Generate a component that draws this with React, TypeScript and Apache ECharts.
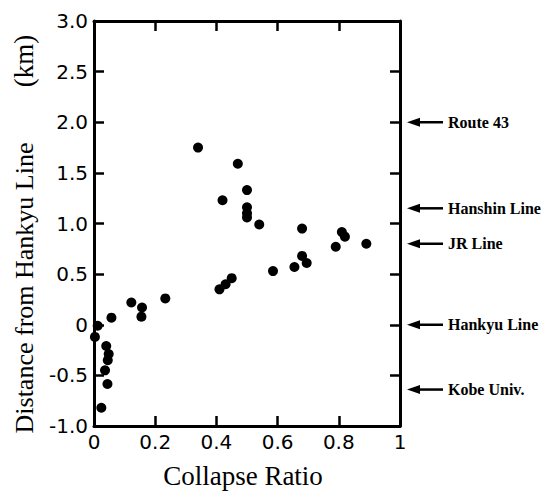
import React, { useEffect, useRef } from "react";
import * as echarts from "echarts";

const collapseRatio = [
  0.34, 0.47, 0.5, 0.42, 0.5, 0.5, 0.5, 0.54, 0.68,
  0.41, 0.43, 0.45, 0.585, 0.655, 0.68, 0.695,
  0.79, 0.81, 0.82, 0.89,
  0.233, 0.122, 0.157, 0.155, 0.057,
  0.012, 0.003, 0.04, 0.048, 0.045, 0.036, 0.044, 0.024,
];
const distanceKm = [
  1.75, 1.59, 1.33, 1.23, 1.16, 1.1, 1.06, 0.99, 0.95,
  0.35, 0.4, 0.46, 0.53, 0.57, 0.68, 0.61,
  0.77, 0.915, 0.87, 0.8,
  0.26, 0.22, 0.17, 0.08, 0.07,
  -0.01, -0.12, -0.21, -0.29, -0.35, -0.45, -0.585, -0.82,
];
const landmarkNames = ["Route 43", "Hanshin Line", "JR Line", "Hankyu Line", "Kobe Univ."];
const landmarkKm = [2.0, 1.15, 0.8, 0.0, -0.64];

const xTitle = "Collapse Ratio";
const yTitle = "Distance from Hankyu Line";
const yUnit = "(km)";

const SERIF = "'Liberation Serif', 'Times New Roman', serif";

export default function App() {
  const ref = useRef<HTMLDivElement>(null);
  useEffect(() => {
    if (!ref.current) return;
    const chart = echarts.init(ref.current, undefined, { renderer: "svg" });
    const axisLine = { show: true, onZero: false, lineStyle: { color: "#000", width: 3 } };
    const tick = { show: true, inside: true, length: 10, lineStyle: { color: "#000", width: 2.5 } };
    const labelFont = { color: "#000", fontFamily: "DejaVu Sans", fontSize: 20 };
    chart.setOption({
      animation: false,
      backgroundColor: "#fff",
      grid: { left: 94, top: 21, width: 306, height: 405, containLabel: false },
      xAxis: [
        {
          type: "value", position: "bottom", min: 0, max: 1, interval: 0.2,
          axisLine, axisTick: tick, splitLine: { show: false },
          axisLabel: {
            ...labelFont, margin: 6,
            formatter: (v: number) => (v === 0 || v === 1 ? String(v) : v.toFixed(1)),
          },
        },
        {
          type: "value", position: "top", min: 0, max: 1, interval: 0.2,
          axisLine, axisTick: tick, splitLine: { show: false }, axisLabel: { show: false },
        },
      ],
      yAxis: [
        {
          type: "value", position: "left", min: -1, max: 3, interval: 0.5,
          axisLine, axisTick: tick, splitLine: { show: false },
          axisLabel: {
            ...labelFont, margin: 6,
            formatter: (v: number) => (v === 0 ? "0" : v.toFixed(1)),
          },
        },
        {
          type: "value", position: "right", min: -1, max: 3, interval: 0.5,
          axisLine, axisTick: tick, splitLine: { show: false }, axisLabel: { show: false },
        },
      ],
      series: [
        {
          type: "scatter",
          xAxisIndex: 0,
          yAxisIndex: 0,
          symbol: "circle",
          symbolSize: 10,
          itemStyle: { color: "#000", opacity: 1 },
          data: collapseRatio.map((x, i) => [x, distanceKm[i]]),
        },
      ],
    });

    const graphics: any[] = [];
    landmarkNames.forEach((name, i) => {
      const y = chart.convertToPixel({ yAxisIndex: 0 }, landmarkKm[i]) as number;
      graphics.push({
        type: "line",
        shape: { x1: 416, y1: y, x2: 443, y2: y },
        style: { stroke: "#000", lineWidth: 2.5 },
      });
      graphics.push({
        type: "polygon",
        shape: { points: [[407, y], [420, y - 4.5], [420, y + 4.5]] },
        style: { fill: "#000" },
      });
      graphics.push({
        type: "text",
        x: 448,
        y: y,
        style: {
          text: name,
          fill: "#000",
          fontFamily: SERIF,
          fontSize: 16,
          fontWeight: "bold",
          align: "left",
          verticalAlign: "middle",
        },
      });
    });
    graphics.push({
      type: "text",
      x: 243,
      y: 476,
      style: {
        text: xTitle,
        fill: "#000",
        fontFamily: SERIF,
        fontSize: 27,
        align: "center",
        verticalAlign: "middle",
      },
    });
    graphics.push({
      type: "text",
      x: 24,
      y: 288,
      rotation: Math.PI / 2,
      style: {
        text: yTitle,
        fill: "#000",
        fontFamily: SERIF,
        fontSize: 26,
        align: "center",
        verticalAlign: "middle",
      },
    });
    graphics.push({
      type: "text",
      x: 24,
      y: 61,
      rotation: Math.PI / 2,
      style: {
        text: yUnit,
        fill: "#000",
        fontFamily: SERIF,
        fontSize: 27,
        align: "center",
        verticalAlign: "middle",
      },
    });
    chart.setOption({ graphic: graphics });

    return () => chart.dispose();
  }, []);
  return <div ref={ref} style={{ width: 546, height: 491, position: "absolute", left: 0, top: 0 }} />;
}
